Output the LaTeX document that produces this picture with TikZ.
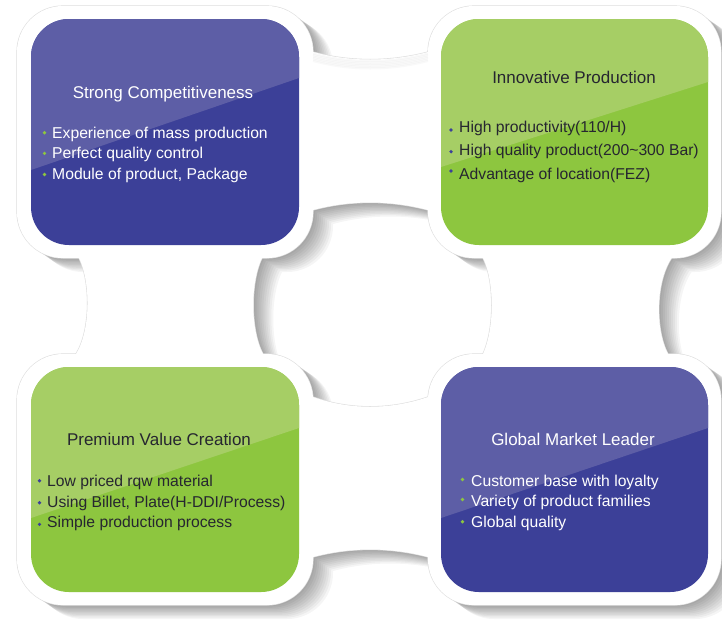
\documentclass[tikz,border=0pt]{standalone}
\usepackage{fontspec}
\setmainfont{Liberation Sans}
\definecolor{bdark}{RGB}{60,64,152}
\definecolor{blight}{RGB}{93,94,166}
\definecolor{gdark}{RGB}{141,198,63}
\definecolor{glight}{RGB}{166,206,101}
\definecolor{gtext}{RGB}{38,38,48}
\definecolor{rimgray}{RGB}{222,222,222}
\newcommand\sheetframes{(17,6) rectangle (313,258) (428,6) rectangle (721,258) (17,354) rectangle (313,605) (428,354) rectangle (721,605)}
\newcommand\sheetcore{(200,52) -- (313,52) .. controls (350,62) and (390,62) .. (428,52) -- (540,52) -- (673,150) -- (673,256) .. controls (655,280) and (655,330) .. (668,354) -- (668,450) -- (540,557) -- (428,557) .. controls (390,547) and (350,547) .. (313,557) -- (200,557) -- (76,450) -- (76,354) .. controls (91,330) and (91,280) .. (78,256) -- (78,150) -- cycle
 (258,210) -- (313,210) .. controls (350,200) and (390,200) .. (428,210) -- (487,210) -- (482,256) .. controls (495,280) and (495,330) .. (482,356) -- (487,397) -- (428,397) .. controls (390,410) and (350,410) .. (313,397) -- (258,397) -- (263,354) .. controls (250,330) and (250,280) .. (263,256) -- cycle}
\tikzset{
  ttl/.style={font=\fontsize{17}{20}\selectfont, inner sep=0pt, anchor=base},
  itm/.style={font=\fontsize{15.7}{20}\selectfont, inner sep=0pt, anchor=base west},
  card/.style={rounded corners=38pt},
}
\begin{document}
\begin{tikzpicture}[x=1pt,y=-1pt]
\useasboundingbox (0,0) rectangle (722,630);
\fill[white] (0,0) rectangle (722,630);
% soft shadow of the white sheet
\foreach \k in {1,...,10}{
  \begin{scope}[transparency group, opacity=0.04, shift={(2*\k,1.4*\k)}]
    \fill[black, rounded corners=46pt] \sheetframes;
    \fill[black, even odd rule] \sheetcore;
  \end{scope}
}
% thin rim and white sheet
\draw[rimgray, line width=1.2pt, rounded corners=46pt] \sheetframes;
\draw[rimgray, line width=1.2pt] \sheetcore;
\fill[white, rounded corners=46pt] \sheetframes;
\fill[white, even odd rule] \sheetcore;
% faint shade under the top bridge edge
\foreach \k in {1,...,6}{
  \draw[black, opacity=0.025, line width=2pt, shift={(0,1.5*\k)}]
    (313,52) .. controls (350,62) and (390,62) .. (428,52);
}
% cards
\fill[bdark, card] (31,19) rectangle (299,245);
\begin{scope}
  \clip[card] (31,19) rectangle (299,245);
  \fill[blight] (20,10) -- (310,10) -- (310,74) -- (299,78) -- (31,170) -- (20,174) -- cycle;
\end{scope}
\fill[gdark, card] (441,19) rectangle (708,245);
\begin{scope}
  \clip[card] (441,19) rectangle (708,245);
  \fill[glight] (430,10) -- (720,10) -- (720,78) -- (708,82) -- (441,167) -- (430,171) -- cycle;
\end{scope}
\fill[gdark, card] (31,367) rectangle (299,592);
\begin{scope}
  \clip[card] (31,367) rectangle (299,592);
  \fill[glight] (20,358) -- (310,358) -- (310,424) -- (299,428) -- (31,518) -- (20,522) -- cycle;
\end{scope}
\fill[bdark, card] (441,367) rectangle (708,592);
\begin{scope}
  \clip[card] (441,367) rectangle (708,592);
  \fill[blight] (430,358) -- (720,358) -- (720,424) -- (708,428) -- (441,518) -- (430,522) -- cycle;
\end{scope}
% texts: top left
\node[ttl, text=white] (sc) at (163,98) {Strong Competitiveness};
\node[itm, text=white] (sc1) at (52,138) {Experience of mass production};
\node[itm, text=white] (sc2) at (52,158.5) {Perfect quality control};
\node[itm, text=white] (sc3) at (52,179) {Module of product, Package};
\fill[gdark] (44.5,132.7) circle (1.8pt) (44.5,153.3) circle (1.8pt) (44.5,174.5) circle (1.8pt);
% top right
\node[ttl, text=gtext] (ip) at (574,83) {Innovative Production};
\node[itm, text=gtext] (ip1) at (459,132) {High productivity(110/H)};
\node[itm, text=gtext] (ip2) at (459,155) {High quality product(200\textasciitilde300 Bar)};
\node[itm, text=gtext] (ip3) at (459,179.5) {Advantage of location(FEZ)};
\fill[bdark] (451,130) circle (1.8pt) (451,151.7) circle (1.8pt) (451,171) circle (1.8pt);
% bottom left
\node[ttl, text=gtext] (pv) at (159,445) {Premium Value Creation};
\node[itm, text=gtext] (pv1) at (47,486.5) {Low priced rqw material};
\node[itm, text=gtext] (pv2) at (47,507) {Using Billet, Plate(H-DDI/Process)};
\node[itm, text=gtext] (pv3) at (47,527.5) {Simple production process};
\fill[bdark] (39.5,480.7) circle (1.8pt) (39.5,502.7) circle (1.8pt) (39.5,524.3) circle (1.8pt);
% bottom right
\node[ttl, text=white] (gm) at (573,445) {Global Market Leader};
\node[itm, text=white] (gm1) at (471,486.7) {Customer base with loyalty};
\node[itm, text=white] (gm2) at (471,506.7) {Variety of product families};
\node[itm, text=white] (gm3) at (471,527.3) {Global quality};
\fill[gdark] (462.5,479.5) circle (1.8pt) (462.5,499.5) circle (1.8pt) (462.5,521.7) circle (1.8pt);
\end{tikzpicture}
\end{document}
